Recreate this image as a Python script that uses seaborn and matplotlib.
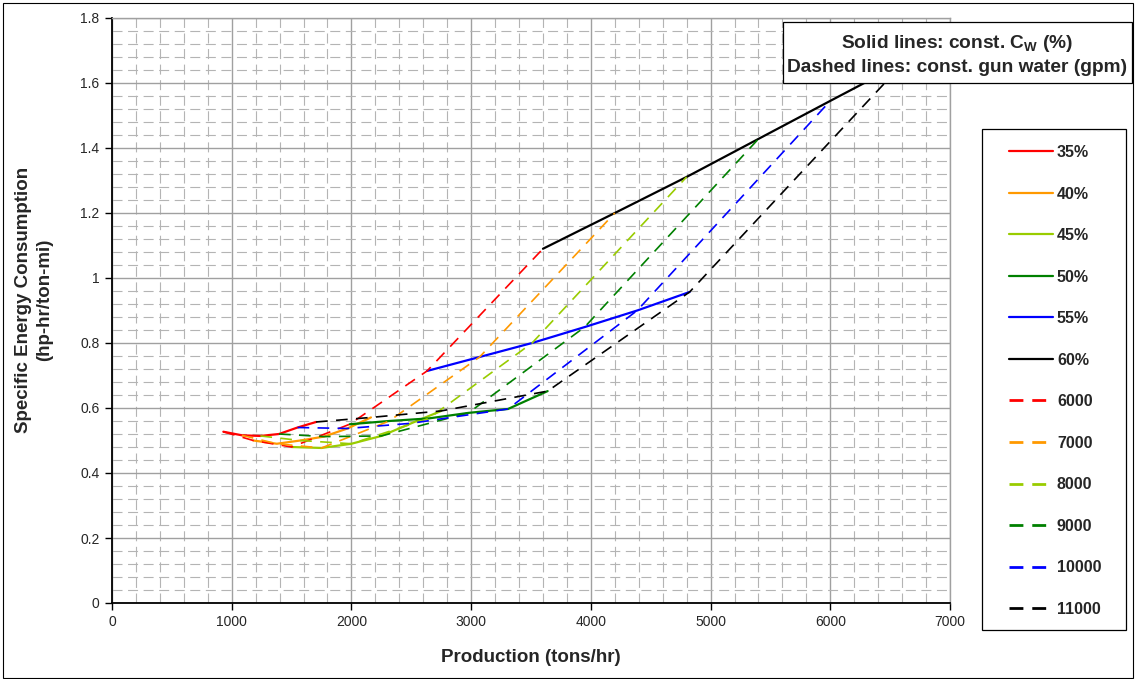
import matplotlib
matplotlib.use("Agg")
import matplotlib.pyplot as plt
import seaborn as sns
import pandas as pd
from matplotlib.lines import Line2D
from matplotlib.patches import Rectangle
from matplotlib.ticker import MultipleLocator, FuncFormatter

# ---------------- data ----------------
cw_labels = ["35%", "40%", "45%", "50%", "55%", "60%"]
gpm_labels = ["6000", "7000", "8000", "9000", "10000", "11000"]
colors = ["#FF0000", "#FF9900", "#99CC00", "#008000", "#0000FF", "#000000"]

# production (tons/hr) at gun water 6000..11000 gpm, one list per Cw
prod_35 = [930, 1085, 1240, 1395, 1550, 1705]
prod_40 = [1180, 1377, 1573, 1770, 1967, 2163]
prod_45 = [1500, 1750, 2000, 2250, 2500, 2750]
prod_50 = [1985, 2316, 2647, 2978, 3308, 3639]
prod_55 = [2632, 3071, 3509, 3948, 4387, 4825]
prod_60 = [3600, 4200, 4800, 5400, 6000, 6620]

# specific energy consumption (hp-hr/ton-mi), same layout
sec_35 = [0.527, 0.516, 0.514, 0.520, 0.540, 0.557]
sec_40 = [0.500, 0.490, 0.500, 0.512, 0.537, 0.571]
sec_45 = [0.480, 0.477, 0.490, 0.514, 0.553, 0.591]
sec_50 = [0.550, 0.560, 0.568, 0.585, 0.597, 0.652]
sec_55 = [0.714, 0.757, 0.800, 0.849, 0.900, 0.957]
sec_60 = [1.090, 1.200, 1.311, 1.428, 1.545, 1.665]

x_ticks = [0, 1000, 2000, 3000, 4000, 5000, 6000, 7000]
y_ticks = [0, 0.2, 0.4, 0.6, 0.8, 1.0, 1.2, 1.4, 1.6, 1.8]

prods = [prod_35, prod_40, prod_45, prod_50, prod_55, prod_60]
secs = [sec_35, sec_40, sec_45, sec_50, sec_55, sec_60]
rows = []
for i, cw in enumerate(cw_labels):
    for j, g in enumerate(gpm_labels):
        rows.append({"cw": cw, "gpm": g, "production": prods[i][j], "sec": secs[i][j]})
df = pd.DataFrame(rows)

# ---------------- style ----------------
sns.set_style("white")
plt.rcParams["font.family"] = ["Liberation Sans", "DejaVu Sans"]
plt.rcParams["mathtext.fontset"] = "custom"
plt.rcParams["mathtext.rm"] = "Liberation Sans:bold"
plt.rcParams["mathtext.bf"] = "Liberation Sans:bold"

W, H = 1135, 679
fig = plt.figure(figsize=(W / 100, H / 100), dpi=100)
fig.patch.set_facecolor("white")
L, R, T, B = 112, 950, 18, 603
ax = fig.add_axes([L / W, 1 - B / H, (R - L) / W, (B - T) / H])

# solid lines: constant Cw
sns.lineplot(data=df, x="production", y="sec", hue="cw", hue_order=cw_labels,
             palette=colors, sort=False, estimator=None, legend=False, ax=ax,
             linewidth=1.6, zorder=3)
n_solid = len(ax.lines)
# dashed lines: constant gun water
sns.lineplot(data=df, x="production", y="sec", hue="gpm", hue_order=gpm_labels,
             palette=colors, sort=False, estimator=None, legend=False, ax=ax,
             linewidth=1.2, zorder=4)
for ln in ax.lines[n_solid:]:
    ln.set_dashes((7, 5))

# ---------------- axes ----------------
ax.set_xlim(x_ticks[0], x_ticks[-1])
ax.set_ylim(y_ticks[0], y_ticks[-1])
ax.set_xticks(x_ticks)
ax.set_yticks(y_ticks)
ax.xaxis.set_minor_locator(MultipleLocator(200))
ax.yaxis.set_minor_locator(MultipleLocator(0.04))
ax.yaxis.set_major_formatter(FuncFormatter(lambda v, p: f"{v:g}"))
ax.grid(which="minor", color="#b4b4b4", linewidth=0.8, linestyle=(0, (9, 5)), zorder=0)
ax.grid(which="major", color="#a0a0a0", linewidth=1.0, linestyle="-", zorder=1)
ax.set_axisbelow(True)
ax.tick_params(which="major", direction="out", length=5, width=1, color="black",
               labelsize=10, pad=4, bottom=True, left=True)
ax.tick_params(which="minor", length=0)
for s in ["left", "bottom"]:
    ax.spines[s].set_color("black")
    ax.spines[s].set_linewidth(1.3)
for s in ["top", "right"]:
    ax.spines[s].set_color("#a0a0a0")
    ax.spines[s].set_linewidth(1.0)
ax.set_xlabel("")
ax.set_ylabel("")

fig.text(531 / W, 1 - 657 / H, "Production (tons/hr)", ha="center", va="center",
         fontsize=13.5, fontweight="bold")
fig.text(34 / W, 1 - 300 / H, "Specific Energy Consumption\n(hp-hr/ton-mi)",
         ha="center", va="center", rotation=90, fontsize=13.5, fontweight="bold",
         linespacing=1.3, multialignment="center")

# ---------------- legend ----------------
handles = []
for c, lab in zip(colors, cw_labels):
    handles.append(Line2D([0], [0], color=c, lw=1.6, label=lab))
for c, lab in zip(colors, gpm_labels):
    h = Line2D([0], [0], color=c, lw=2.0, label=lab)
    h.set_dashes((5, 3.2))
    handles.append(h)

fig.add_artist(Rectangle((982 / W, 1 - 630 / H), 144 / W, 501 / H,
                         transform=fig.transFigure, facecolor="white",
                         edgecolor="black", linewidth=0.9, zorder=5))
leg = fig.legend(handles=handles, loc="upper left",
                 bbox_to_anchor=(1009 / W, 1 - 145 / H), frameon=False,
                 borderpad=0, borderaxespad=0, handlelength=2.75,
                 handletextpad=0.25, labelspacing=1.66,
                 prop={"weight": "bold", "size": 11.5})
leg.set_zorder(6)

# ---------------- annotation box ----------------
fig.add_artist(Rectangle((783 / W, 1 - 83 / H), 349 / W, 61 / H,
                         transform=fig.transFigure, facecolor="white",
                         edgecolor="black", linewidth=0.9, zorder=10))
fig.text(957 / W, 1 - 43 / H, r"Solid lines: const. C$_\mathregular{W}$ (%)",
         ha="center", va="center", fontsize=13.8, fontweight="bold", zorder=11)
fig.text(957 / W, 1 - 67 / H, "Dashed lines: const. gun water (gpm)",
         ha="center", va="center", fontsize=13.8, fontweight="bold", zorder=11)

# chart border
fig.add_artist(Rectangle((2.5 / W, 1.5 / H), (W - 5) / W, (H - 4) / H,
                         transform=fig.transFigure, facecolor="none",
                         edgecolor="black", linewidth=0.8, zorder=12))

fig.savefig("out.png", dpi=100)
